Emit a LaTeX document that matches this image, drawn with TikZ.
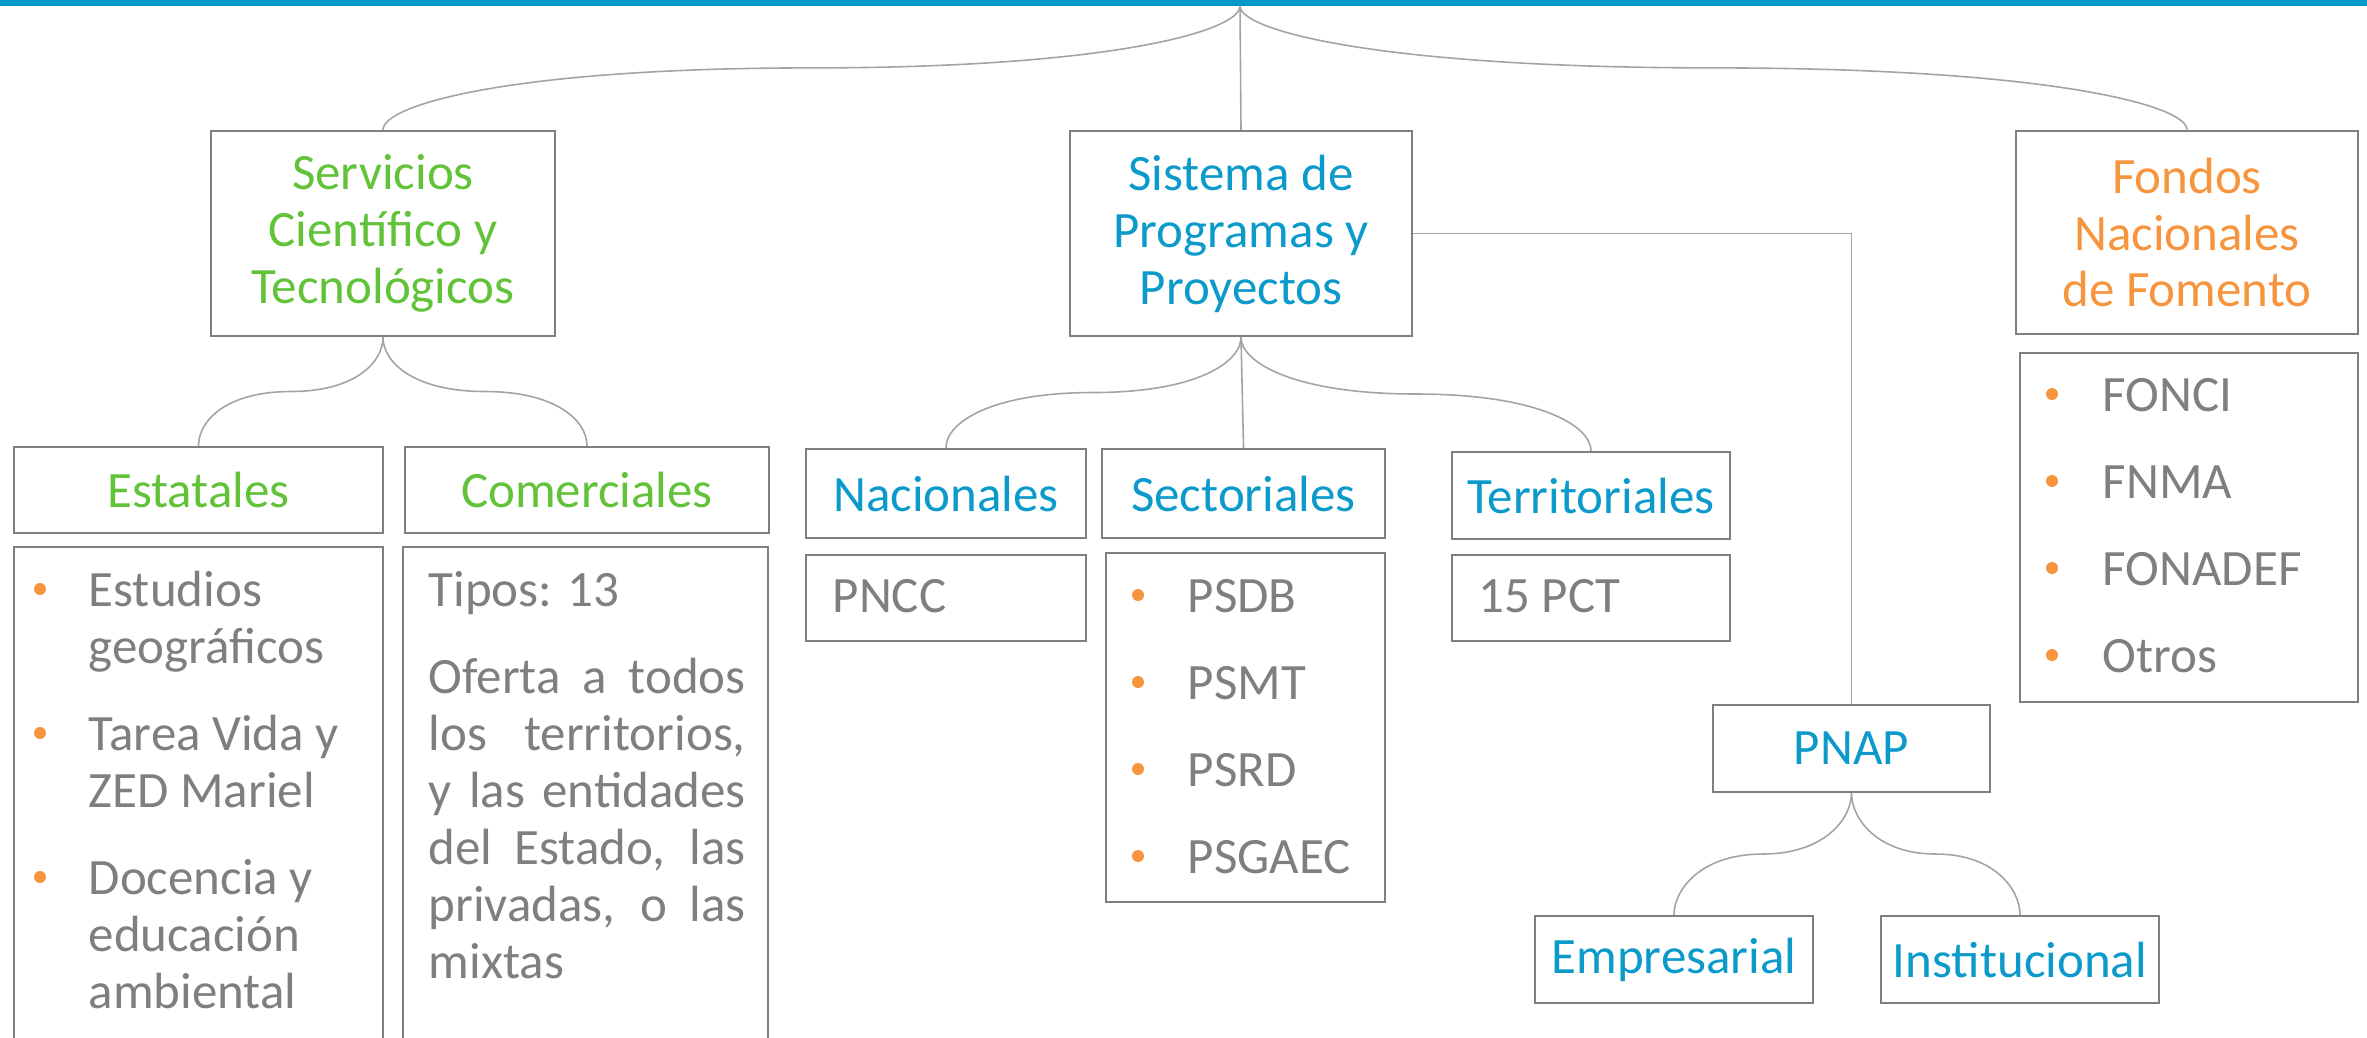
\documentclass[tikz,border=0pt]{standalone}
\usepackage{fontspec}
\setmainfont{Carlito}
\usetikzlibrary{calc}
\definecolor{bandblue}{HTML}{0099CC}
\definecolor{leafgreen}{HTML}{62C33A}
\definecolor{leafblue}{HTML}{0C9ACB}
\definecolor{dotorange}{HTML}{F7953F}
\definecolor{inkgray}{HTML}{7F7F7F}
\definecolor{linkgray}{HTML}{A3A3A3}

\begin{document}
\begin{tikzpicture}[x=0.1mm, y=0.1mm,
    every node/.style={font=\fontsize{14.5}{16.2}\selectfont, inner sep=0pt},
    cardbox/.style 2 args={draw=inkgray, line width=0.7pt, minimum width=#1*0.1mm, minimum height=#2*0.1mm, align=center},
    itemtext/.style={text=inkgray, anchor=base west, align=left},
    link/.style={draw=linkgray, line width=0.45pt}]
    \useasboundingbox (0,0) rectangle (2367,-1037);
    \clip (0,0) rectangle (2367,-1037);
    \fill[bandblue] (0,0) rectangle (2367,-6);
    \coordinate (root) at (1240,-6);

    % first level
    \node[cardbox={344}{205}, text=leafgreen] (serv) at (383,-233.5) {Servicios\\Científico y\\Tecnológicos};
    \node[cardbox={342}{205}, text=leafblue] (sist) at (1241,-233.5) {Sistema de\\Programas y\\Proyectos};
    \node[cardbox={342}{203}, text=dotorange] (fond) at (2187,-232.5) {Fondos\\Nacionales\\de Fomento};
    \node[cardbox={338}{349}] (fondlist) at (2189,-527.5) {};

    % second level
    \node[cardbox={369}{86}, text=leafgreen] (est) at (198.5,-490) {Estatales};
    \node[cardbox={364}{86}, text=leafgreen] (com) at (587,-490) {Comerciales};
    \node[cardbox={369}{513}] (estlist) at (198.5,-803.5) {};
    \node[cardbox={365}{513}] (comlist) at (585.5,-803.5) {};
    \node[cardbox={280}{89}, text=leafblue] (nac) at (946,-493.5) {Nacionales};
    \node[cardbox={283}{89}, text=leafblue] (sect) at (1243.5,-493.5) {Sectoriales};
    \node[cardbox={278}{87}, text=leafblue] (terr) at (1591,-495.5) {Territoriales};
    \node[cardbox={280}{86}] (pncc) at (946,-598) {};
    \node[cardbox={279}{349}] (sectlist) at (1245.5,-727.5) {};
    \node[cardbox={278}{86}] (pct) at (1591,-598) {};
    \node[cardbox={277}{87}, text=leafblue] (pnap) at (1851.5,-748.5) {PNAP};
    \node[cardbox={278}{87}, text=leafblue] (emp) at (1674,-959.5) {Empresarial};
    \node[cardbox={278}{87}, text=leafblue] (inst) at (2020,-959.5) {Institucional};

    % list contents (base = last line)
    \node[itemtext] (est1) at (88,-663) {Estudios\\geográficos};
    \node[itemtext] (est2) at (88,-807) {Tarea Vida y\\ZED Mariel};
    \node[itemtext] (est3) at (88,-1008) {Docencia y\\educación\\ambiental};
    \foreach \y in {589,733,877}
        \fill[dotorange] (40,-\y) circle (6);
    \node[itemtext] (tipos) at (428,-606) {Tipos: 13};
    \node[itemtext] (oferta) at (428,-978) {\makebox[31.7mm][s]{Oferta a todos}\\
        \makebox[31.7mm][s]{los territorios,}\\
        \makebox[31.7mm][s]{y las entidades}\\
        \makebox[31.7mm][s]{del Estado, las}\\
        \makebox[31.7mm][s]{privadas, o las}\\
        mixtas};
    \node[itemtext] (pnccitem) at (832,-612) {PNCC};
    \node[itemtext] (pctitem) at (1478,-612) {15 PCT};
    \foreach \t [count=\i] in {PSDB,PSMT,PSRD,PSGAEC} {
        \node[itemtext] (sect\i) at (1187,{-612-87*(\i-1)}) {\t};
        \fill[dotorange] ($(sect\i.base west)+(-49,17)$) circle (6);
    }
    \foreach \t [count=\i] in {FONCI,FNMA,FONADEF,Otros} {
        \node[itemtext] (fond\i) at (2102,{-411-87*(\i-1)}) {\t};
        \fill[dotorange] ($(fond\i.base west)+(-50,17)$) circle (6);
    }

    % connectors
    \draw[link] (root) -- (sist.north);
    \draw[link] (sist.south) -- (sect.north);
    \draw[link] (sist.east) -| (pnap.north);
    \foreach \a/\b in {root/serv.north, root/fond.north, serv.south/est.north, serv.south/com.north,
        sist.south/nac.north, sist.south/terr.north, pnap.south/emp.north, pnap.south/inst.north} {
        \coordinate (m) at ($(\a)!.5!(\b)$);
        \draw[link] (\a) .. controls ($(\a)+(0,-25)$) and ($(m)!.7!(\a |- m)$) .. (m)
            .. controls ($(m)!.7!(\b |- m)$) and ($(\b)+(0,25)$) .. (\b);
    }
\end{tikzpicture}
\end{document}
